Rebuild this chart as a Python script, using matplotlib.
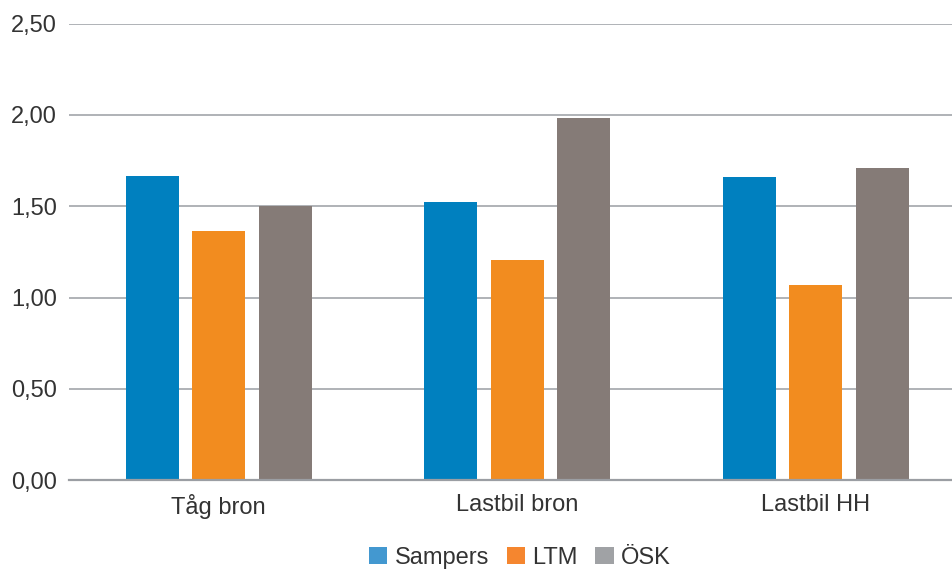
import matplotlib
matplotlib.use("Agg")
import matplotlib.pyplot as plt
from matplotlib.patches import Patch
from matplotlib.ticker import FuncFormatter, MultipleLocator
import numpy as np

plt.rcParams['font.family'] = ['Liberation Sans', 'DejaVu Sans']

categories = ["Tåg bron", "Lastbil bron", "Lastbil HH"]
series_names = ["Sampers", "LTM", "ÖSK"]
sampers = [1.666, 1.523, 1.660]
ltm = [1.366, 1.206, 1.069]
osk = [1.50, 1.985, 1.709]

bar_colors = ["#0080BF", "#F28C1F", "#857B77"]
legend_colors = ["#4398D0", "#F5862F", "#A0A2A5"]
text_color = "#333333"
grid_color = "#A2A5AA"

fig = plt.figure(figsize=(9.52, 5.71), dpi=100)
ax = fig.add_axes([0.073, 0.1588, 0.9407, 0.80])

x = np.arange(len(categories))
offset = 0.2228
width = 0.1776
for i, vals in enumerate([sampers, ltm, osk]):
    ax.bar(x + (i - 1) * offset, vals, width=width, color=bar_colors[i], zorder=3)

ax.set_xlim(-0.5, len(categories) - 0.5)
ax.set_ylim(0, 2.5)
ax.yaxis.set_major_locator(MultipleLocator(0.5))
ax.yaxis.set_major_formatter(FuncFormatter(lambda v, p: f"{v:.2f}".replace(".", ",")))
ax.set_xticks(x)
ax.set_xticklabels(categories)

ax.grid(axis='y', color=grid_color, linewidth=1.2, zorder=0)
ax.set_axisbelow(True)
for s in ["top", "right", "left"]:
    ax.spines[s].set_visible(False)
ax.spines["bottom"].set_color("#9B9EA3")
ax.spines["bottom"].set_linewidth(1.6)
ax.spines["bottom"].set_zorder(4)
ax.tick_params(axis='both', length=0, labelsize=17, labelcolor=text_color)
ax.tick_params(axis='y', pad=9)
ax.tick_params(axis='x', pad=10)

handles = [Patch(facecolor=c, edgecolor='none') for c in legend_colors]
fig.legend(handles, series_names, loc='lower center', bbox_to_anchor=(0.546, 0.004),
           ncol=3, frameon=False, fontsize=17, labelcolor=text_color,
           handlelength=0.78, handleheight=0.78, handletextpad=0.3,
           columnspacing=0.75, borderaxespad=0, borderpad=0)

fig.savefig("out.png", dpi=100)
